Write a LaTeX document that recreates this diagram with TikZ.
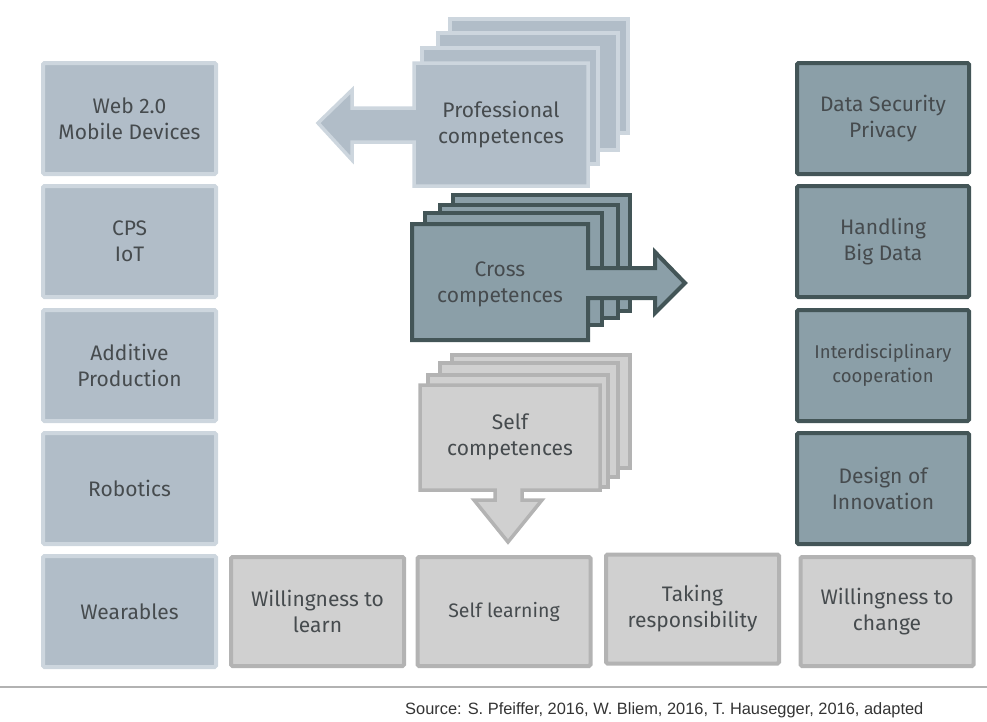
\documentclass[tikz,border=0pt]{standalone}
\usepackage{fontspec}
\setmainfont{Fira Sans}
\newfontfamily\srcfont{Liberation Sans}
\definecolor{lfill}{HTML}{B1BDC8}
\definecolor{lline}{HTML}{CDD6DE}
\definecolor{dfill}{HTML}{8B9FA8}
\definecolor{dline}{HTML}{435557}
\definecolor{gfill}{HTML}{D0D0D0}
\definecolor{gline}{HTML}{B3B3B3}
\definecolor{txt}{HTML}{464B4E}
\tikzset{
  base/.style={align=center, text=txt, font=\fontsize{21}{26}\selectfont, inner sep=0pt, line width=4pt, rounded corners=1.5pt},
  lbox/.style={base, fill=lfill, draw=lline, minimum width=173pt, minimum height=111pt},
  dbox/.style={base, fill=dfill, draw=dline, minimum width=172pt, minimum height=111pt},
  gbox/.style={base, fill=gfill, draw=gline, minimum width=173pt, minimum height=109pt},
  lstack/.style={fill=lfill, draw=lline, line width=3.5pt},
  dstack/.style={fill=dfill, draw=dline, line width=4pt},
  gstack/.style={fill=gfill, draw=gline, line width=3.5pt},
  lbl/.style={align=center, text=txt, font=\fontsize{21}{26}\selectfont, inner sep=0pt}
}
\begin{document}
\begin{tikzpicture}[x=1pt,y=-1pt]
\useasboundingbox (0,0) rectangle (987,721);
% left column
\node[lbox] (web) at (129.5,118.5) {Web 2.0\\Mobile Devices};
\node[lbox] (cps) at (129.5,241.5) {CPS\\IoT};
\node[lbox] (add) at (129.5,365.5) {Additive\\Production};
\node[lbox] (rob) at (129.5,488.5) {Robotics};
\node[lbox] (wear) at (129.5,611.5) {Wearables};
% right column
\node[dbox] (sec) at (883,118.5) {Data Security\\Privacy};
\node[dbox] (big) at (883,241.5) {Handling\\Big Data};
\node[dbox, font=\fontsize{18.5}{24}\selectfont] (inter) at (883,365.5) {Interdisciplinary\\cooperation};
\node[dbox] (des) at (883,488.5) {Design of\\Innovation};
% bottom row
\node[gbox] (wlearn) at (317.5,611.5) {Willingness to\\learn};
\node[gbox, font=\fontsize{19.5}{24}\selectfont] (slearn) at (504,611.5) {Self learning};
\node[gbox] (resp) at (692.5,609) {Taking\\responsibility};
\node[gbox] (wchange) at (887,611.5) {Willingness to\\change};
% professional stack
\node[lstack, minimum width=178pt, minimum height=114pt] (p4) at (539,76) {};
\node[lstack, minimum width=180pt, minimum height=117pt] (p3) at (528,91.5) {};
\node[lstack, minimum width=176pt, minimum height=116pt] (p2) at (510,106) {};
\draw[lstack, line join=miter] (414,63) -- (588,63) -- (588,186) -- (414,186) -- (414,142) -- (352,142) -- (352,160) -- (318,123) -- (352,90) -- (352,108) -- (414,108) -- cycle;
\node[lbl] (prof) at (501,125) {Professional\\competences};
% cross stack
\node[dstack, minimum width=177pt, minimum height=116pt] (c4) at (541.5,253) {};
\node[dstack, minimum width=178pt, minimum height=113pt] (c3) at (529,261.5) {};
\node[dstack, minimum width=177pt, minimum height=112pt] (c2) at (513.5,269) {};
\draw[dstack, line join=miter] (412,224) -- (588,224) -- (588,268) -- (655,268) -- (655,252) -- (685,283) -- (655,313) -- (655,298) -- (588,298) -- (588,340) -- (412,340) -- cycle;
\node[lbl] (cross) at (500,284) {Cross\\competences};
% self stack
\node[gstack, minimum width=178pt, minimum height=113pt] (s4) at (541,411.5) {};
\node[gstack, minimum width=178pt, minimum height=114pt] (s3) at (529,420) {};
\node[gstack, minimum width=180pt, minimum height=112pt] (s2) at (518,431) {};
\draw[gstack, line join=miter] (420,385) -- (600,385) -- (600,490) -- (522,490) -- (522,500) -- (542,500) -- (508,542) -- (474,500) -- (495,500) -- (495,490) -- (420,490) -- cycle;
\node[lbl] (self) at (510,437) {Self\\competences};
% footer
\coordinate (la) at (0,687);
\coordinate (lb) at (987,687);
\draw[line width=2pt, color=black!30] (la) -- (lb);
\node[anchor=west, inner sep=0pt, font=\srcfont\fontsize{16.4}{18}\selectfont, text=black!80] (src) at (405,710) {Source: S. Pfeiffer, 2016, W. Bliem, 2016, T. Hausegger, 2016, adapted};
\end{tikzpicture}
\end{document}
